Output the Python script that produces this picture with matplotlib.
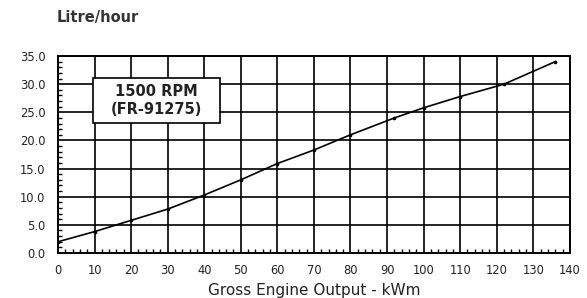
import matplotlib.pyplot as plt
from matplotlib.ticker import MultipleLocator
from matplotlib.patches import Rectangle

# fuel consumption curve
output_kwm = [0, 10, 20, 30, 40, 50, 60, 70, 80, 92, 100, 110, 122, 136]
litre_hour = [2.0, 3.8, 5.8, 7.8, 10.3, 13.0, 15.9, 18.3, 21.0, 24.0, 25.8, 27.8, 30.0, 34.0]
x_ticks = list(range(0, 150, 10))
y_ticks = [0, 5, 10, 15, 20, 25, 30, 35]

# wide font, the original text is stretched sideways
plt.rcParams['font.family'] = ['DejaVu Sans']

fig = plt.figure(figsize=(5.87, 2.98), dpi=100)
ax = fig.add_axes([0.0988, 0.151, 0.872, 0.661])

ax.plot(output_kwm, litre_hour, color='black', lw=1.2, marker='o', ms=1.6, zorder=3)

ax.set_xlim(0, 140)
ax.set_ylim(0, 35)
ax.set_xticks(x_ticks)
ax.set_yticks(y_ticks)
ax.set_yticklabels(['%.1f' % v for v in y_ticks])
ax.xaxis.set_minor_locator(MultipleLocator(2))
ax.yaxis.set_minor_locator(MultipleLocator(1))
ax.tick_params(which='both', direction='in', top=False, right=False,
               labelsize=8.3, labelcolor='#222222', color='black')
ax.tick_params(which='major', length=0)
ax.tick_params(axis='y', which='major', pad=9)
ax.tick_params(axis='x', which='major', pad=8)
ax.tick_params(which='minor', length=3, width=1)
ax.grid(which='major', color='black', lw=1.2)
for s in ax.spines.values():
    s.set_linewidth(1.4)

# legend box
ax.add_patch(Rectangle((9.6, 23.1), 34.7, 8.0, fc='white', ec='black', lw=1.2, zorder=4))
ax.text(27, 27.1, '1500 RPM\n(FR-91275)', ha='center', va='center',
        fontsize=10.5, fontweight='bold', color='#222222', linespacing=1.25, zorder=5)

ax.set_xlabel('Gross Engine Output - kWm', fontsize=11, color='#222222', labelpad=4)
fig.text(0.097, 0.94, 'Litre/hour', fontsize=10.5, fontweight='bold', color='#333333', va='center')

fig.savefig('out.png', dpi=100, facecolor='white')
